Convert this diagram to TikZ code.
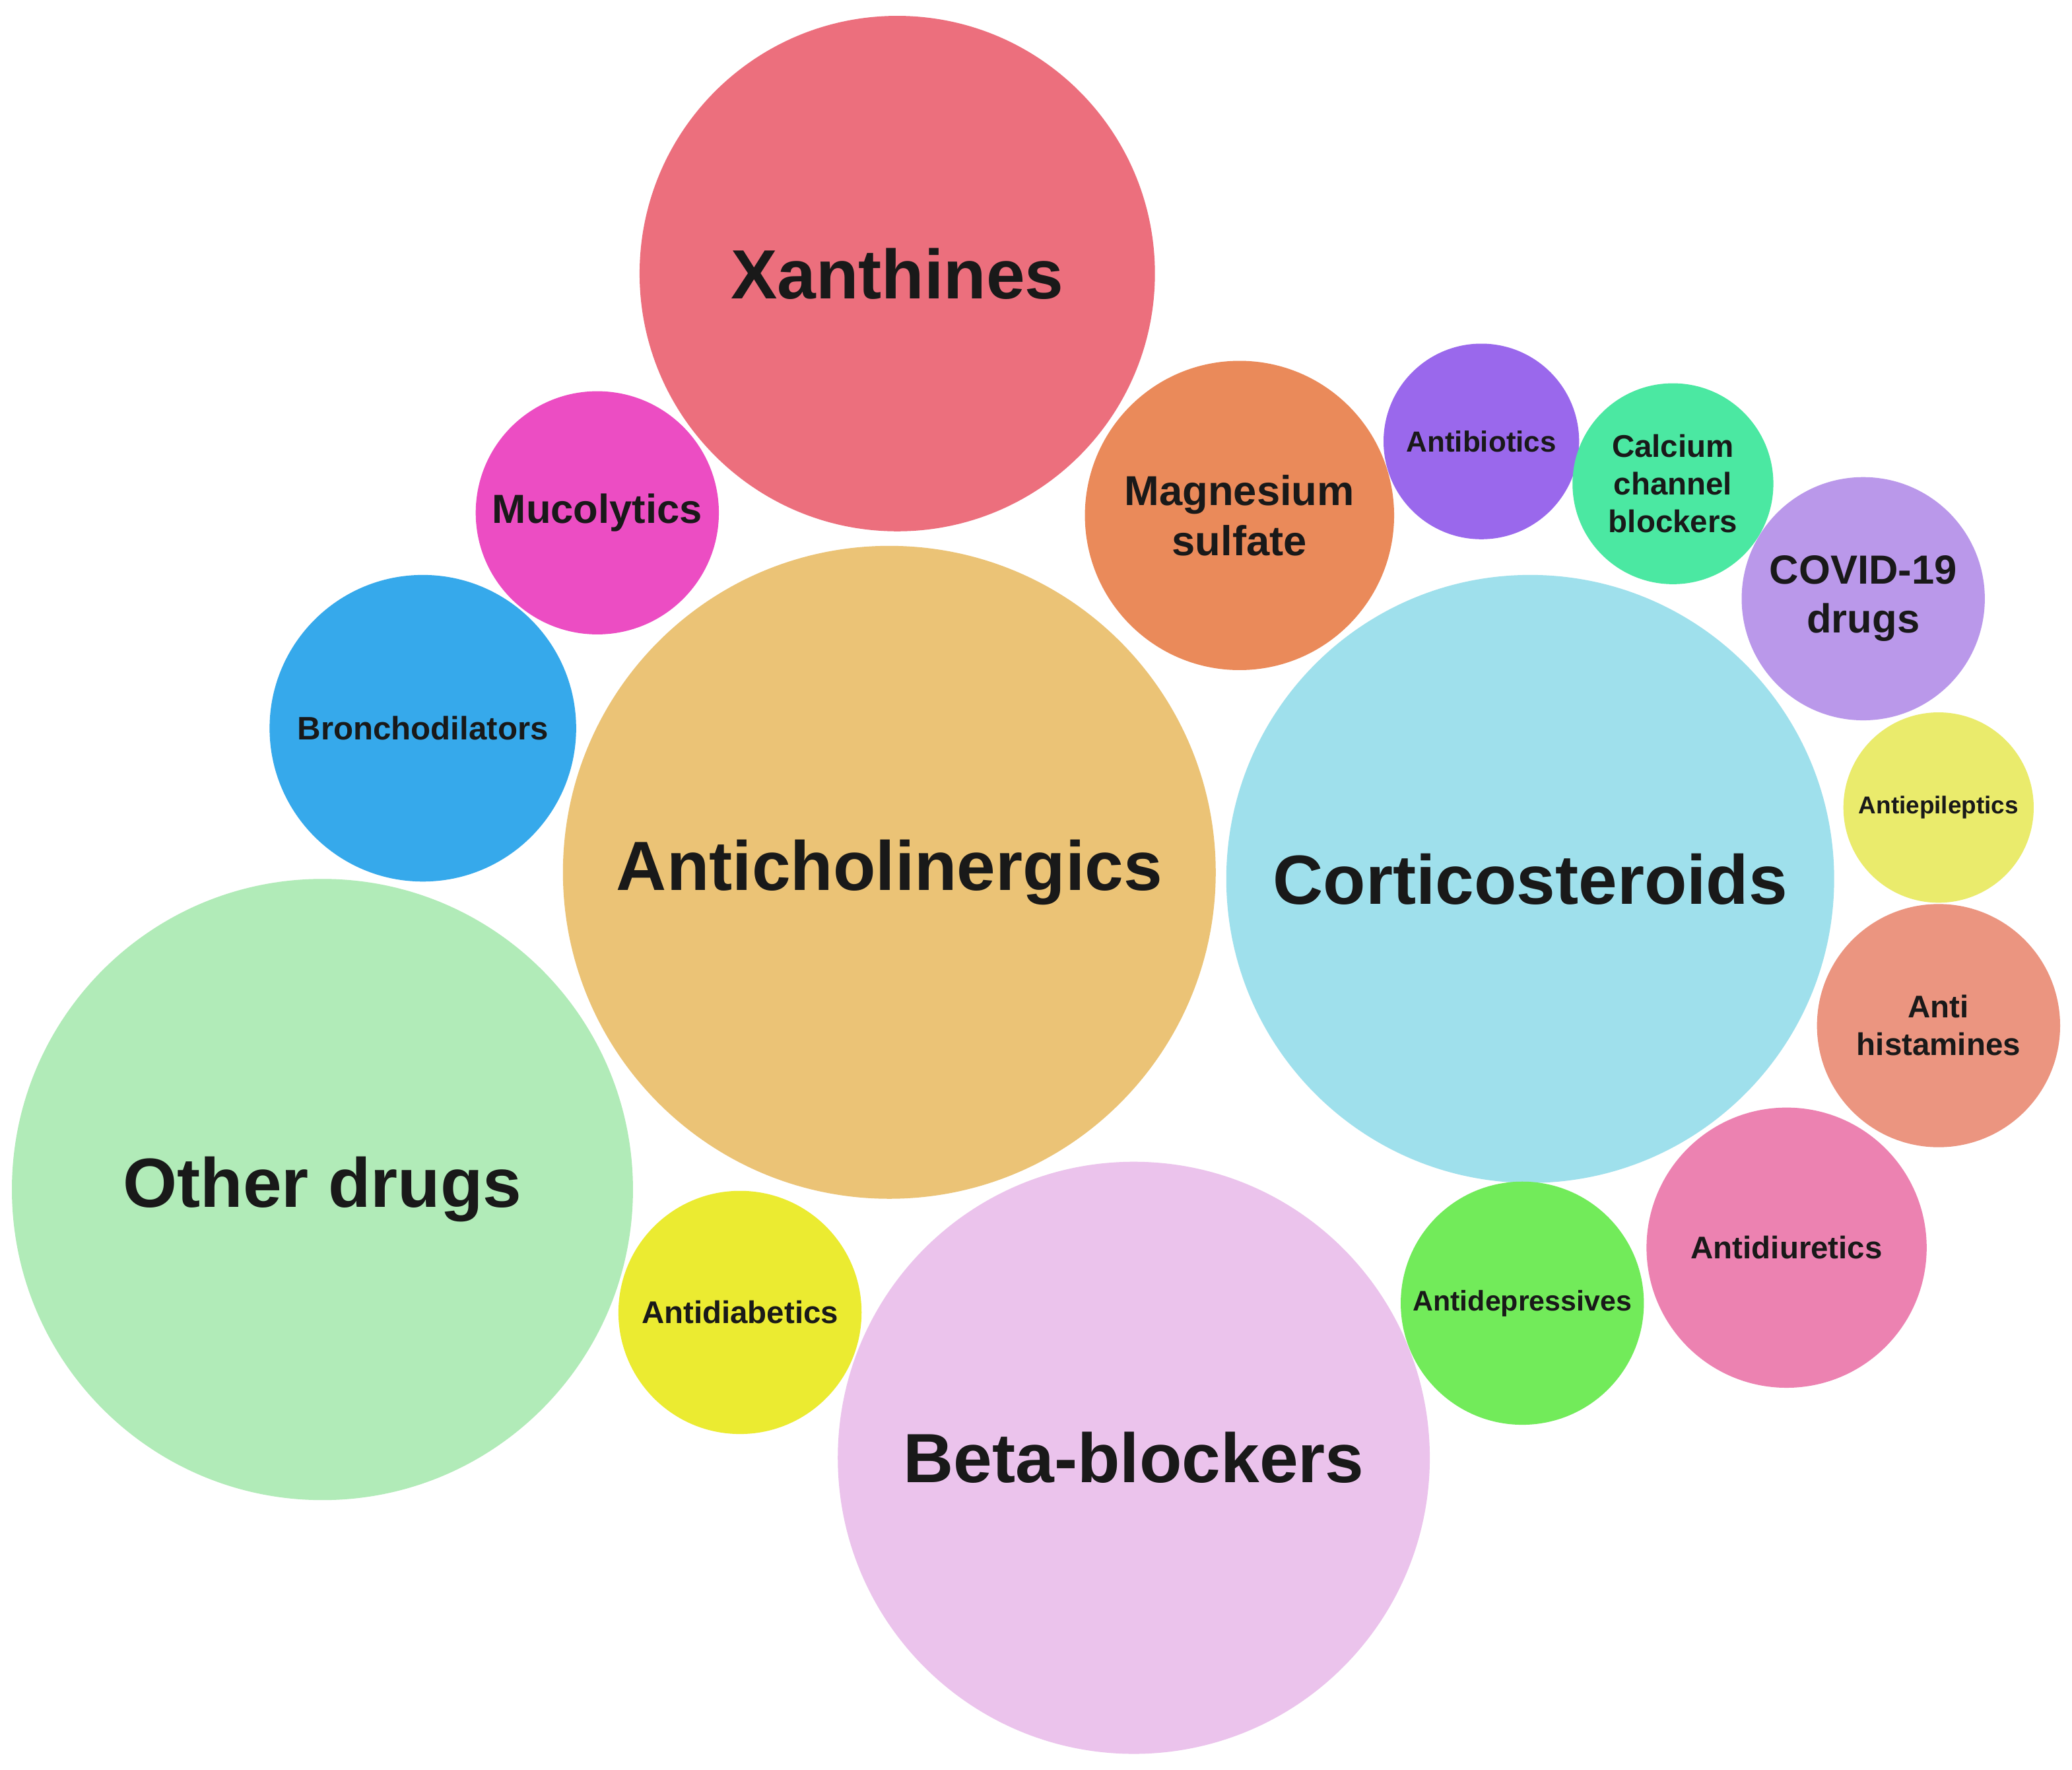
\documentclass[tikz,border=0pt]{standalone}
\usepackage{fontspec}
\setmainfont{Liberation Sans}
\definecolor{cXan}{HTML}{EC6F7D}
\definecolor{cMuc}{HTML}{EC4DC3}
\definecolor{cMag}{HTML}{EA8A5A}
\definecolor{cAbi}{HTML}{9A68EC}
\definecolor{cCal}{HTML}{4BE8A2}
\definecolor{cCov}{HTML}{BA98EA}
\definecolor{cBro}{HTML}{36A9EB}
\definecolor{cAch}{HTML}{EBC376}
\definecolor{cCor}{HTML}{9FE0EC}
\definecolor{cAep}{HTML}{EAEB6C}
\definecolor{cAhi}{HTML}{EB9580}
\definecolor{cOth}{HTML}{B1EBB8}
\definecolor{cAdb}{HTML}{EBEB31}
\definecolor{cBet}{HTML}{EBC3EC}
\definecolor{cAdp}{HTML}{72EB5A}
\definecolor{cAdu}{HTML}{EC82B1}
\tikzset{bub/.style={circle,inner sep=0pt,draw=none,align=center,font=\bfseries,text=black!90}}
\newcommand{\fs}[1]{\fontsize{#1}{1.2\dimexpr#1pt\relax}\selectfont}
\begin{document}
\begin{tikzpicture}[x=0.02cm,y=-0.02cm]
\useasboundingbox (0,0) rectangle (1568,1339);
\fill[white] (0,0) rectangle (1568,1339);
\newcommand{\bubble}[7]{% name,x,y,r,color,size,text
  \fill[#5] (#2,#3) circle (#4);
  \node[bub,font=\bfseries\fs{#6}] (#1) at (#2,#3) {#7};}
\bubble{xan}{679}{207}{195}{cXan}{30}{Xanthines}
\bubble{muc}{452}{388}{92}{cMuc}{17.5}{Mucolytics}
\bubble{mag}{938}{390}{117}{cMag}{18}{Magnesium\\sulfate}
\bubble{abi}{1121}{334}{74}{cAbi}{12.5}{Antibiotics}
\bubble{cal}{1266}{366}{76}{cCal}{13.5}{Calcium\\channel\\blockers}
\bubble{cov}{1410}{453}{92}{cCov}{17.5}{COVID-19\\drugs}
\bubble{bro}{320}{551}{116}{cBro}{14}{Bronchodilators}
\bubble{ach}{673}{660}{247}{cAch}{30}{Anticholinergics}
\bubble{cor}{1158}{665}{230}{cCor}{30}{Corticosteroids}
\bubble{aep}{1467}{611}{72}{cAep}{10.5}{Antiepileptics}
\bubble{ahi}{1467}{776}{92}{cAhi}{13.5}{Anti\\histamines}
\bubble{oth}{244}{900}{235}{cOth}{30}{Other drugs}
\bubble{adb}{560}{993}{92}{cAdb}{13.5}{Antidiabetics}
\bubble{bet}{858}{1103}{224}{cBet}{30}{Beta-blockers}
\bubble{adp}{1152}{986}{92}{cAdp}{12.2}{Antidepressives}
\bubble{adu}{1352}{944}{106}{cAdu}{13.5}{Antidiuretics}
\end{tikzpicture}
\end{document}
